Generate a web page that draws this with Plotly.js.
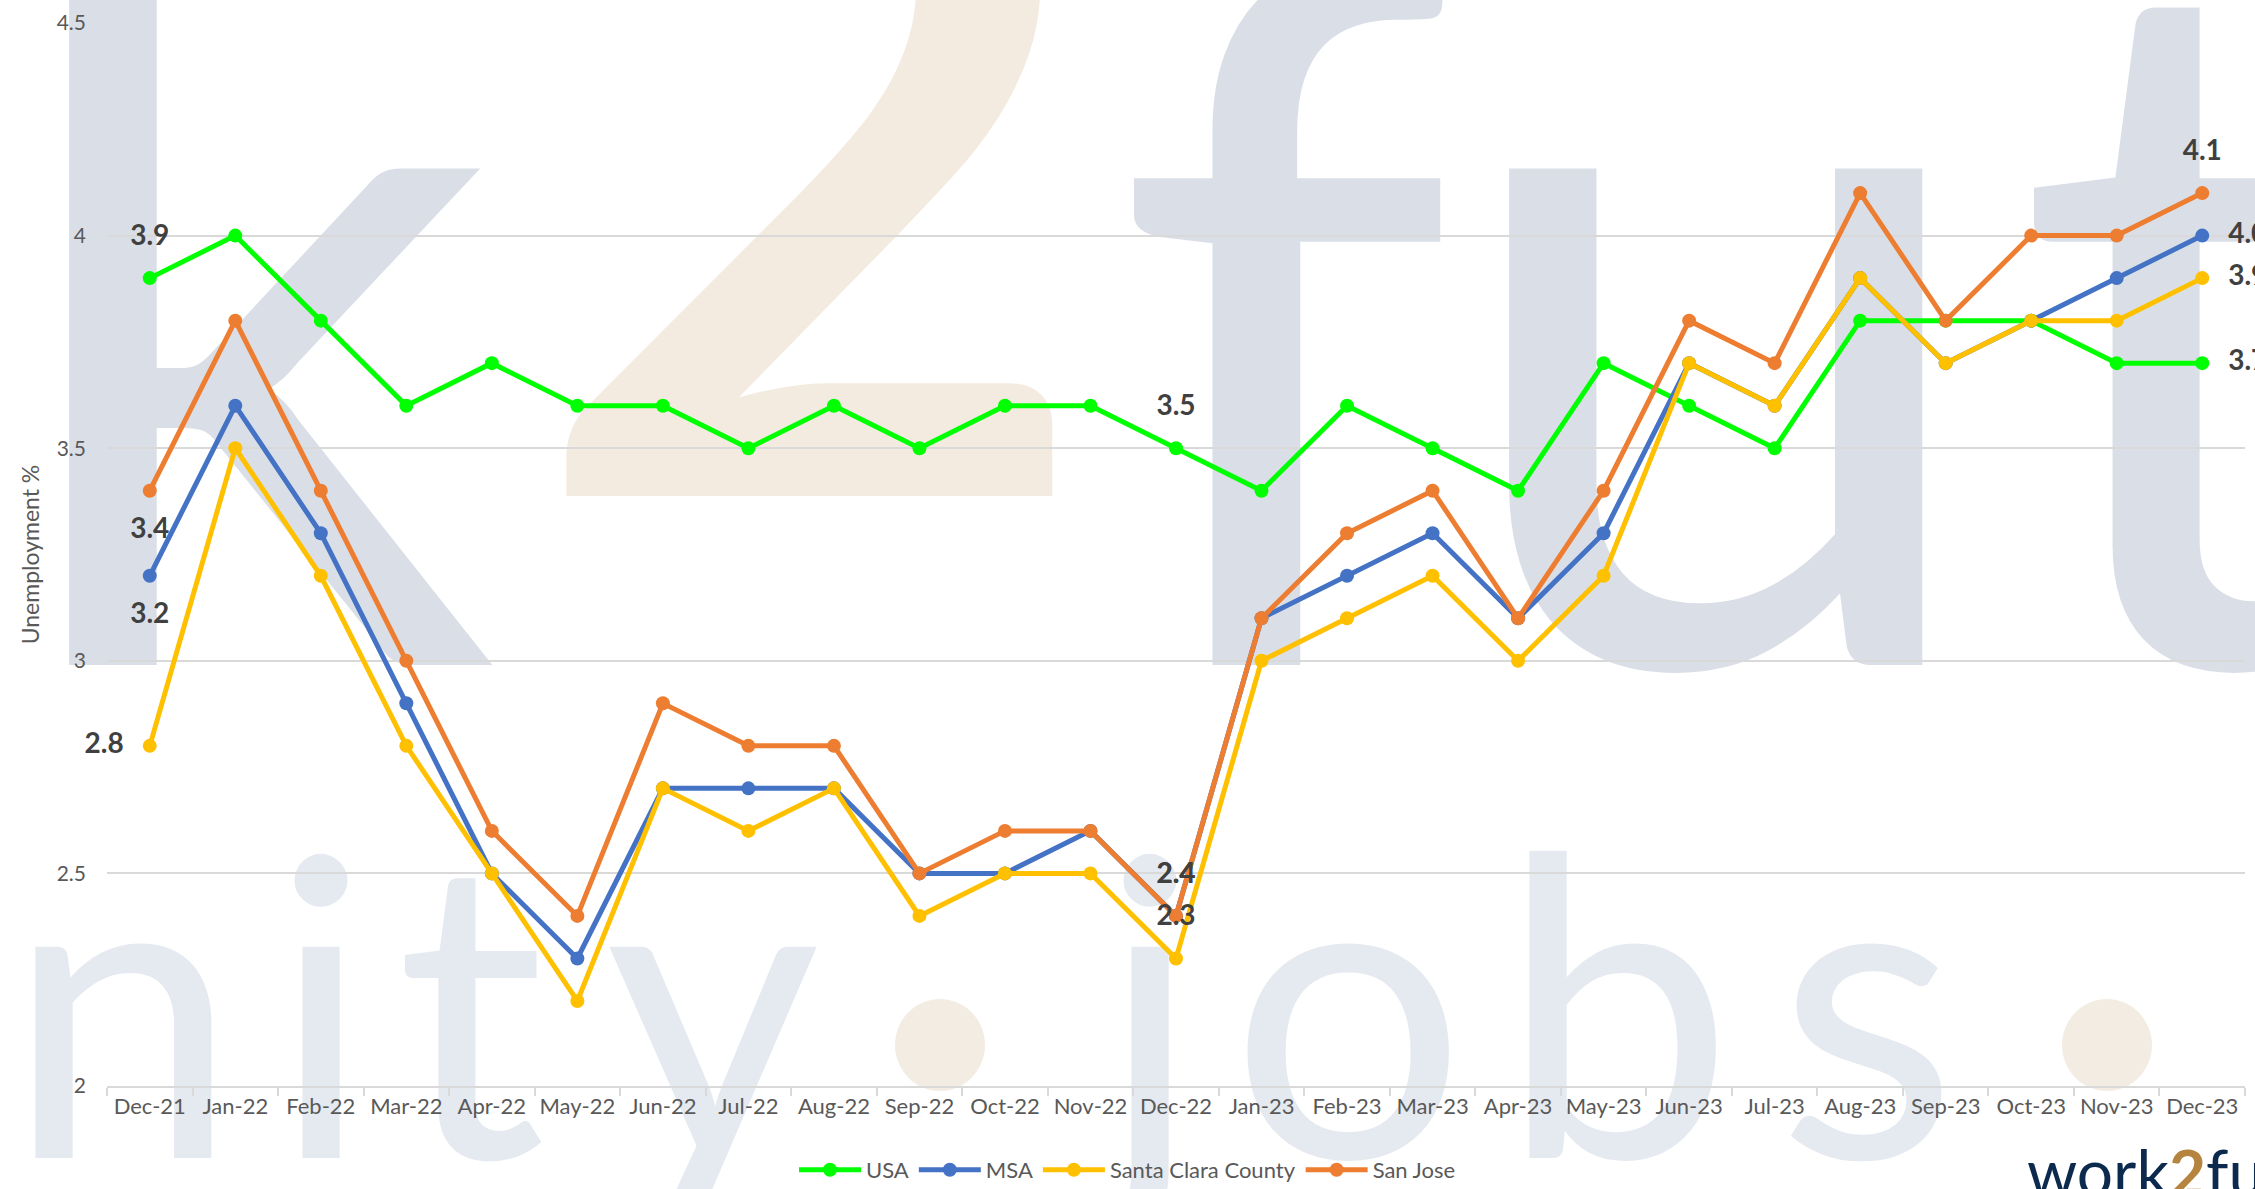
<!DOCTYPE html>
<html>
<head>
<meta charset="utf-8">
<script src="https://cdn.plot.ly/plotly-3.0.1.min.js"></script>
<style>
html,body{margin:0;padding:0;background:#ffffff;}
#chart{width:2255px;height:1189px;}
</style>
</head>
<body>
<div id="chart"></div>
<script>
// ---- data ----
var months = ["Dec-21","Jan-22","Feb-22","Mar-22","Apr-22","May-22","Jun-22","Jul-22","Aug-22","Sep-22","Oct-22","Nov-22","Dec-22",
              "Jan-23","Feb-23","Mar-23","Apr-23","May-23","Jun-23","Jul-23","Aug-23","Sep-23","Oct-23","Nov-23","Dec-23"];
var usa        = [3.9,4.0,3.8,3.6,3.7,3.6,3.6,3.5,3.6,3.5,3.6,3.6,3.5,3.4,3.6,3.5,3.4,3.7,3.6,3.5,3.8,3.8,3.8,3.7,3.7];
var msa        = [3.2,3.6,3.3,2.9,2.5,2.3,2.7,2.7,2.7,2.5,2.5,2.6,2.4,3.1,3.2,3.3,3.1,3.3,3.7,3.6,3.9,3.7,3.8,3.9,4.0];
var santaClara = [2.8,3.5,3.2,2.8,2.5,2.2,2.7,2.6,2.7,2.4,2.5,2.5,2.3,3.0,3.1,3.2,3.0,3.2,3.7,3.6,3.9,3.7,3.8,3.8,3.9];
var sanJose    = [3.4,3.8,3.4,3.0,2.6,2.4,2.9,2.8,2.8,2.5,2.6,2.6,2.4,3.1,3.3,3.4,3.1,3.4,3.8,3.7,4.1,3.8,4.0,4.0,4.1];
var yTickVals  = [2,2.5,3,3.5,4,4.5];
var yTickText  = ["2","2.5","3","3.5","4","4.5"];
var seriesNames = ["USA","MSA","Santa Clara County","San Jose"];
var labelIdx = [0,12,24];

// ---- style ----
var colors = ["#00ff00","#4472c4","#ffc000","#ed7d31"];
var labelPos = [
  ["top center","top center","middle right"],
  ["bottom center","top center","middle right"],
  ["middle left","top center","middle right"],
  ["bottom center","top center","top center"]
];
var W = 2255, H = 1189;
var M = {l:107, r:10, t:23, b:103};
var PW = W - M.l - M.r, PH = H - M.t - M.b;

var series = [usa, msa, santaClara, sanJose];
var traces = [];
series.forEach(function(vals, i){
  traces.push({
    type:"scatter", mode:"lines+markers", name:seriesNames[i],
    x:months, y:vals,
    line:{color:colors[i], width:5},
    marker:{color:colors[i], size:14},
    cliponaxis:false, hoverinfo:"x+y+name"
  });
});
series.forEach(function(vals, i){
  traces.push({
    type:"scatter", mode:"markers+text", showlegend:false, hoverinfo:"skip",
    x:labelIdx.map(function(k){return months[k];}),
    y:labelIdx.map(function(k){return vals[k];}),
    text:labelIdx.map(function(k){return vals[k].toFixed(1);}),
    textposition:labelPos[i],
    textfont:{family:"Lato, sans-serif", size:28, color:"#404040", weight:"bold"},
    marker:{size:40, opacity:0, color:colors[i]},
    cliponaxis:false
  });
});

// ---- background watermark (decorative picture) ----
var svg = "<svg xmlns='http://www.w3.org/2000/svg' width='"+W+"' height='"+H+"' viewBox='0 0 "+W+" "+H+"'>"+
  "<g font-family='Lato' fill='#dadfe7' font-size='980'>"+
    "<text x='0' y='665'>k</text>"+
    "<text x='1111' y='665'>f</text>"+
    "<text x='1445' y='665'>u</text>"+
    "<text x='2013' y='665'>t</text>"+
  "</g>"+
  "<text x='529' y='496' font-family='Lato' font-weight='700' font-size='980' fill='#f3ebe0'>2</text>"+
  "<g font-family='Lato' fill='#e5e9f0' font-size='417'>"+
    "<text x='6' y='1158'>n</text>"+
    "<text x='271' y='1158'>i</text>"+
    "<text x='396' y='1158'>t</text>"+
    "<text x='605' y='1158'>y</text>"+
    "<text x='1100' y='1158'>j</text>"+
    "<text x='1230' y='1158'>o</text>"+
    "<text x='1500' y='1158'>b</text>"+
    "<text x='1777' y='1158'>s</text>"+
  "</g>"+
  "<ellipse cx='940' cy='1045' rx='45' ry='46' fill='#f3ece2'/>"+
  "<ellipse cx='2107' cy='1045' rx='45' ry='46' fill='#f3ece2'/>"+
  "</svg>";

var layout = {
  width:W, height:H,
  margin:M,
  paper_bgcolor:"#ffffff",
  plot_bgcolor:"rgba(0,0,0,0)",
  showlegend:true,
  font:{family:"Lato, sans-serif", color:"#595959"},
  xaxis:{
    type:"category", range:[-0.5, months.length-0.5], autorange:false,
    showgrid:false, zeroline:false,
    showline:true, linecolor:"#d9d9d9", linewidth:2,
    ticks:"outside", ticklen:8, tickcolor:"#d9d9d9", tickwidth:2, tickson:"boundaries",
    tickfont:{family:"Lato, sans-serif", size:22, color:"#595959"},
    tickangle:0, fixedrange:true
  },
  yaxis:{
    range:[2,4.5], autorange:false, tickvals:yTickVals, ticktext:yTickText,
    showgrid:true, gridcolor:"#d9d9d9", gridwidth:2, zeroline:false,
    showline:false, ticks:"", ticklabelstandoff:20,
    tickfont:{family:"Lato, sans-serif", size:21, color:"#595959"},
    title:{text:"Unemployment %", font:{family:"Lato, sans-serif", size:23, color:"#595959"}, standoff:10},
    fixedrange:true
  },
  legend:{
    orientation:"h", xref:"container", yref:"container",
    x:0.5, xanchor:"center", y:1-1170/H, yanchor:"middle",
    font:{family:"Lato, sans-serif", size:22, color:"#595959"},
    bgcolor:"rgba(0,0,0,0)", itemwidth:62, tracegroupgap:0
  },
  images:[{
    source:"data:image/svg+xml;charset=utf-8,"+encodeURIComponent(svg),
    xref:"paper", yref:"paper",
    x:-M.l/PW, y:(PH+M.t)/PH, sizex:W/PW, sizey:H/PH,
    xanchor:"left", yanchor:"top", sizing:"stretch", layer:"below"
  }],
  annotations:[{
    xref:"paper", yref:"paper", x:(2025-M.l)/PW, y:(PH-(1131-M.t))/PH,
    xanchor:"left", yanchor:"top", showarrow:false,
    text:"work<b><span style='color:#b5843f'>2</span></b>future",
    font:{family:"Lato, sans-serif", size:64, color:"#0c2a4d"}
  }]
};

Plotly.newPlot("chart", traces, layout, {displayModeBar:false, responsive:false});
</script>
</body>
</html>
